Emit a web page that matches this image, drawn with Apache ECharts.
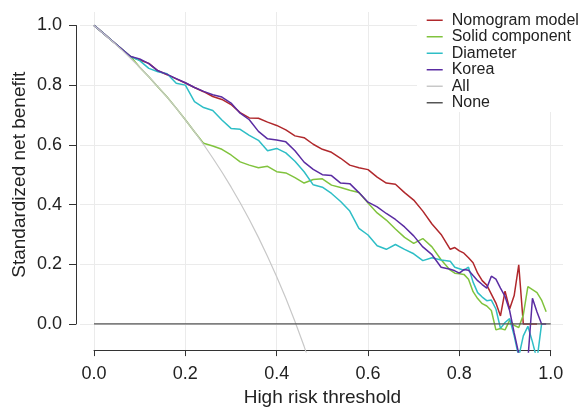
<!DOCTYPE html>
<html><head><meta charset="utf-8">
<script src="https://cdn.jsdelivr.net/npm/echarts@6/dist/echarts.min.js"></script>
<style>html,body{margin:0;padding:0;background:#fff}#c{width:582px;height:412px}</style>
</head><body><div id="c"></div>
<script>
// Threshold grid (x values)
const thresholds = [0,0.02,0.04,0.06,0.08,0.10,0.12,0.14,0.16,0.18,0.20,0.22,0.24,0.26,0.28,0.30,0.32,0.34,0.36,0.38,0.40,0.42,0.44,0.46,0.48,0.50,0.52,0.54,0.56,0.58,0.60,0.62,0.64,0.66,0.68,0.70,0.72,0.74,0.76,0.78,
  0.79,0.80,0.81,0.82,0.83,0.84,0.85,0.86,0.87,0.88,0.89,0.90,0.91,0.92,0.93,0.94,0.95,0.96,0.97,0.98,0.99];

const nomogram = [1.0,0.974,0.948,0.922,0.896,0.884,0.873,0.848,0.835,0.821,0.807,0.792,0.778,0.762,0.752,0.735,0.708,0.690,0.689,0.676,0.665,0.650,0.630,0.624,0.602,0.585,0.575,0.555,0.532,0.523,0.517,0.492,0.472,0.468,0.440,0.415,0.378,0.335,0.300,0.250,
  0.256,0.245,0.237,0.222,0.205,0.170,0.145,0.130,0.100,0.070,0.027,0.110,0.050,0.095,0.198,0.0,0.0,0.0,0.0,null,null];

const solid = [1.0,0.974,0.948,0.922,0.896,0.860,0.828,0.794,0.760,0.723,0.684,0.644,0.605,0.596,0.585,0.566,0.543,0.532,0.523,0.528,0.510,0.506,0.490,0.472,0.484,0.486,0.465,0.457,0.448,0.440,0.405,0.372,0.348,0.318,0.290,0.270,0.286,0.258,0.215,0.180,
  0.170,0.168,0.166,0.150,0.108,0.085,0.068,0.060,0.045,-0.020,-0.015,-0.020,0.012,-0.005,-0.012,0.030,0.125,0.115,0.105,0.080,0.041];

const diameter = [1.0,0.974,0.948,0.922,0.896,0.882,0.856,0.845,0.838,0.806,0.800,0.745,0.725,0.715,0.683,0.655,0.652,0.632,0.615,0.580,0.588,0.573,0.545,0.510,0.466,0.458,0.437,0.410,0.378,0.320,0.298,0.262,0.250,0.266,0.250,0.235,0.212,0.222,0.214,0.210,
  0.190,0.185,0.180,0.190,0.140,0.105,0.090,0.078,0.080,0.050,-0.015,0.005,0.018,-0.040,-0.110,-0.040,-0.008,-0.060,-0.120,0.0,null];

const korea = [1.0,0.974,0.948,0.922,0.896,0.888,0.872,0.848,0.836,0.822,0.808,0.792,0.779,0.768,0.760,0.740,0.706,0.684,0.645,0.620,0.616,0.610,0.580,0.542,0.518,0.500,0.497,0.472,0.470,0.440,0.408,0.392,0.370,0.350,0.325,0.295,0.258,0.232,0.190,0.183,
  0.178,0.170,0.182,0.180,0.162,0.145,0.132,0.120,0.160,0.150,0.120,0.092,0.045,-0.030,-0.100,-0.200,-0.120,0.086,0.040,0.0,0.0];

const allThresholds = [0,0.02,0.04,0.06,0.08,0.10,0.12,0.14,0.16,0.18,0.20,0.22,0.24,0.26,0.28,0.30,0.32,0.34,0.36,0.38,0.40,0.42,0.44,0.46,0.48];
const allValues = [1.0,0.974,0.947,0.919,0.890,0.860,0.828,0.794,0.760,0.723,0.684,0.644,0.601,0.556,0.509,0.459,0.406,0.350,0.290,0.226,0.158,0.086,0.008,-0.075,-0.165];

const noneThresholds = [0, 1];
const noneValues = [0, 0];

const seriesNames = ['Nomogram model','Solid component','Diameter','Korea','All','None'];
const xTickLabels = ['0.0','0.2','0.4','0.6','0.8','1.0'];
const yTickLabels = ['0.0','0.2','0.4','0.6','0.8','1.0'];

const FONT = '"Liberation Sans", Arial, Helvetica, sans-serif';
const GRIDC = '#ebebeb';
const AXC = '#333333';

function pairs(xs, ys) { return xs.map((x, i) => [x, ys[i]]); }
function lineSeries(name, xs, ys, color, width) {
  return {
    name, type: 'line', xAxisIndex: 0, yAxisIndex: 0,
    data: pairs(xs, ys), symbol: 'none', showSymbol: false,
    lineStyle: { color, width }, itemStyle: { color },
    emphasis: { disabled: true }, silent: true, connectNulls: false
  };
}

const chart = echarts.init(document.getElementById('c'), null, { renderer: 'canvas' });
chart.setOption({
  animation: false,
  backgroundColor: '#ffffff',
  textStyle: { fontFamily: FONT },
  grid: [
    { left: 80, right: 19, top: 12, bottom: 60 },      // data
    { left: 94, right: 31.3, top: 12, bottom: 60 },    // x axis + vertical grid
    { left: 76, width: 1, top: 25.5, bottom: 88 },     // y axis
    { left: 80, right: 19, top: 25.5, bottom: 88 }     // horizontal grid
  ],
  xAxis: [
    { gridIndex: 0, type: 'value', min: -0.0307, max: 1.0269, show: false },
    { gridIndex: 1, type: 'value', min: 0, max: 1, interval: 0.2,
      axisLine: { show: true, onZero: false, lineStyle: { color: AXC, width: 1 } },
      axisTick: { show: true, inside: false, length: 6, lineStyle: { color: AXC } },
      axisLabel: { fontSize: 18, color: '#222', margin: 15, fontFamily: FONT,
        formatter: (v) => xTickLabels[Math.round(v / 0.2)] },
      splitLine: { show: true, lineStyle: { color: GRIDC, width: 1 } },
      name: 'High risk threshold', nameLocation: 'middle', nameGap: 36,
      nameTextStyle: { fontSize: 19, color: '#222', fontFamily: FONT } },
    { gridIndex: 2, type: 'value', min: 0, max: 1, show: false },
    { gridIndex: 3, type: 'value', min: 0, max: 1, show: false }
  ],
  yAxis: [
    { gridIndex: 0, type: 'value', min: -0.094, max: 1.045, show: false },
    { gridIndex: 1, type: 'value', min: 0, max: 1, show: false },
    { gridIndex: 2, type: 'value', min: 0, max: 1, interval: 0.2,
      axisLine: { show: true, onZero: false, lineStyle: { color: AXC, width: 1 } },
      axisTick: { show: true, inside: false, length: 7, lineStyle: { color: AXC } },
      axisLabel: { fontSize: 18, color: '#222', margin: 14, fontFamily: FONT,
        formatter: (v) => yTickLabels[Math.round(v / 0.2)] },
      splitLine: { show: false },
      name: 'Standardized net benefit', nameLocation: 'middle', nameGap: 47,
      nameTextStyle: { fontSize: 19, color: '#222', fontFamily: FONT } },
    { gridIndex: 3, type: 'value', min: 0, max: 1, interval: 0.2,
      axisLine: { show: false }, axisTick: { show: false }, axisLabel: { show: false },
      splitLine: { show: true, lineStyle: { color: GRIDC, width: 1 } } }
  ],
  legend: {
    data: seriesNames, orient: 'vertical', left: 417, top: 2,
    padding: [10, 0, 1, 9.7], backgroundColor: '#ffffff',
    icon: 'rect', itemWidth: 16, itemHeight: 1.5, itemGap: 0,
    selectedMode: false,
    textStyle: { fontSize: 16, color: '#222', lineHeight: 16.5, padding: [0, 0, 0, 4], fontFamily: FONT }
  },
  series: [
    lineSeries(seriesNames[0], thresholds, nomogram, '#B0282C', 1.5),
    lineSeries(seriesNames[1], thresholds, solid, '#80C33D', 1.5),
    lineSeries(seriesNames[2], thresholds, diameter, '#2EBEC6', 1.5),
    lineSeries(seriesNames[3], thresholds, korea, '#5A2CA2', 1.5),
    lineSeries(seriesNames[4], allThresholds, allValues, '#C8C8C8', 1.2),
    lineSeries(seriesNames[5], noneThresholds, noneValues, '#555555', 1.2)
  ]
});
</script>
</body></html>
